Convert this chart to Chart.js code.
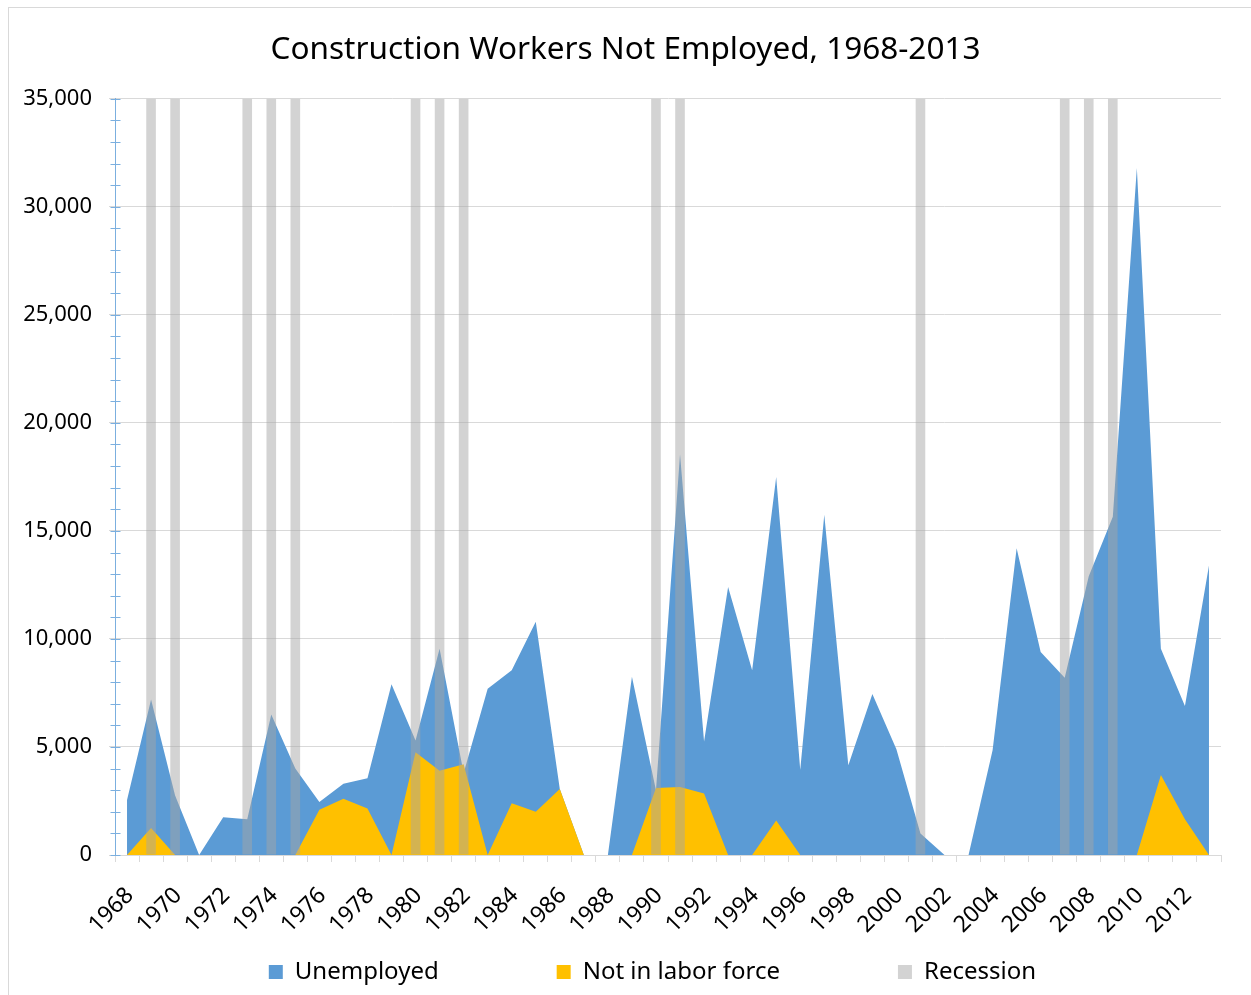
<!DOCTYPE html>
<html>
<head>
<meta charset="utf-8">
<title>Construction Workers Not Employed, 1968-2013</title>
<script src="https://cdn.jsdelivr.net/npm/chart.js@4.4.0/dist/chart.umd.min.js"></script>
<style>
    html, body { margin: 0; padding: 0; background: #fff; overflow: hidden; }
    #frame { position: absolute; left: 8px; top: 7px; width: 1300px; height: 1100px; border: 1px solid #d9d9d9; }
    #wrap { position: absolute; left: 0; top: 0; width: 1251px; height: 995px; }
</style>
</head>
<body>
<div id="frame"></div>
<div id="wrap"><canvas id="grafico"></canvas></div>
<script>
const years = ['1968', '1969', '1970', '1971', '1972', '1973', '1974', '1975', '1976', '1977',
    '1978', '1979', '1980', '1981', '1982', '1983', '1984', '1985', '1986', '1987',
    '1988', '1989', '1990', '1991', '1992', '1993', '1994', '1995', '1996', '1997',
    '1998', '1999', '2000', '2001', '2002', '2003', '2004', '2005', '2006', '2007',
    '2008', '2009', '2010', '2011', '2012', '2013']

const unemployed = [2550, 7200, 2750, 0, 1750, 1650, 6500, 4000, 2450, 3300,
    3550, 7900, 5300, 9550, 3800, 7700, 8550, 10800, 3050, 0,
    0, 8250, 3000, 18550, 5250, 12400, 8550, 17500, 3950, 15750,
    4150, 7450, 4900, 1000, 0, 0, 4850, 14200, 9400, 8200,
    12900, 15650, 31800, 9550, 6900, 13400]

const notInLaborForce = [0, 1250, 0, 0, 0, 0, 0, 0, 2100, 2600,
    2150, 0, 4750, 3900, 4200, 0, 2400, 2000, 3050, 0,
    0, 0, 3100, 3150, 2850, 0, 0, 1600, 0, 0,
    0, 0, 0, 0, 0, 0, 0, 0, 0, 0,
    0, 0, 0, 3700, 1650, 0]

const recession = [null, 35000, 35000, null, null, 35000, 35000, 35000, null, null,
    null, null, 35000, 35000, 35000, null, null, null, null, null,
    null, null, 35000, 35000, null, null, null, null, null, null,
    null, null, null, 35000, null, null, null, null, null, 35000,
    35000, 35000, null, null, null, null]

const yTicks = [0, 5000, 10000, 15000, 20000, 25000, 30000, 35000]

const ctx = document.getElementById('grafico')

Chart.defaults.font.family = "'Noto Sans', sans-serif"
Chart.defaults.color = '#000'

// small blue ticks on the value axis, every 1000
const minorTicks = {
    id: 'minorTicks',
    afterDraw(chart) {
        const y = chart.scales.y
        const c = chart.ctx
        const x0 = Math.round(y.right) + 0.5
        c.save()
        c.strokeStyle = '#7bafdf'
        c.lineWidth = 1
        c.beginPath()
        for (let v = 0; v <= yTicks[yTicks.length - 1]; v += 1000) {
            const py = Math.round(y.getPixelForValue(v)) + 0.5
            c.moveTo(x0 - 5, py)
            c.lineTo(x0 + 5, py)
        }
        c.stroke()
        c.restore()
    }
}

new Chart(ctx, {
    type: 'line',
    data: {
        labels: years,
        datasets: [
            {
                label: 'Unemployed',
                data: unemployed,
                backgroundColor: '#5b9bd5',
                borderColor: '#5b9bd5',
                borderWidth: 0,
                pointRadius: 0,
                fill: 'origin',
                tension: 0,
                order: 3
            },
            {
                label: 'Not in labor force',
                data: notInLaborForce,
                backgroundColor: '#ffc000',
                borderColor: '#ffc000',
                borderWidth: 0,
                pointRadius: 0,
                fill: 'origin',
                tension: 0,
                order: 2
            },
            {
                type: 'bar',
                label: 'Recession',
                data: recession,
                backgroundColor: 'rgba(165, 165, 165, 0.49)',
                borderWidth: 0,
                barPercentage: 0.4,
                categoryPercentage: 1,
                order: 1
            }
        ]
    },
    options: {
        responsive: true,
        maintainAspectRatio: false,
        animation: false,
        layout: {
            padding: { top: 10, left: 0, right: 0, bottom: 1 }
        },
        plugins: {
            title: {
                display: true,
                text: 'Construction Workers Not Employed, 1968-2013',
                font: { size: 31.5, weight: 'normal' },
                color: '#000',
                padding: { top: 21, bottom: 30 }
            },
            legend: {
                position: 'bottom',
                fullSize: false,
                labels: {
                    boxWidth: 14,
                    boxHeight: 14,
                    padding: 10,
                    font: { size: 24 },
                    color: '#000',
                    sort: (a, b) => a.datasetIndex - b.datasetIndex,
                    generateLabels(chart) {
                        const items = Chart.defaults.plugins.legend.labels.generateLabels(chart)
                        items.forEach(it => {
                            if (it.datasetIndex < 2) it.text += '\u2003'.repeat(4) + '\u2002'
                            else it.text += ' '.repeat(5)
                        })
                        return items
                    }
                }
            },
            tooltip: { enabled: false }
        },
        scales: {
            x: {
                offset: true,
                afterFit(scale) {
                    scale.height = 95
                    scale.paddingLeft = 0
                    scale.paddingRight = 0
                },
                grid: {
                    offset: true,
                    drawOnChartArea: false,
                    tickLength: 7,
                    color: '#d9d9d9'
                },
                border: { color: '#d9d9d9' },
                ticks: {
                    autoSkip: false,
                    minRotation: 45,
                    maxRotation: 45,
                    padding: 20,
                    labelOffset: 3,
                    font: { size: 23 },
                    callback: function(value, index) {
                        return index % 2 === 0 ? this.getLabelForValue(value) : ''
                    }
                }
            },
            y: {
                min: 0,
                max: 35000,
                afterFit(scale) { scale.width = 115 },
                afterBuildTicks(scale) { scale.ticks = yTicks.map(v => ({ value: v })) },
                grid: {
                    color: '#d9d9d9',
                    tickLength: 6
                },
                border: { color: '#7bafdf' },
                ticks: {
                    padding: 17,
                    font: { size: 22 },
                    callback: v => v.toLocaleString('en-US')
                }
            },
            yRight: {
                type: 'linear',
                position: 'right',
                afterFit(scale) { scale.width = 30 },
                grid: { display: false },
                border: { display: false },
                ticks: { display: false }
            }
        }
    },
    plugins: [minorTicks]
})
</script>
</body>
</html>
